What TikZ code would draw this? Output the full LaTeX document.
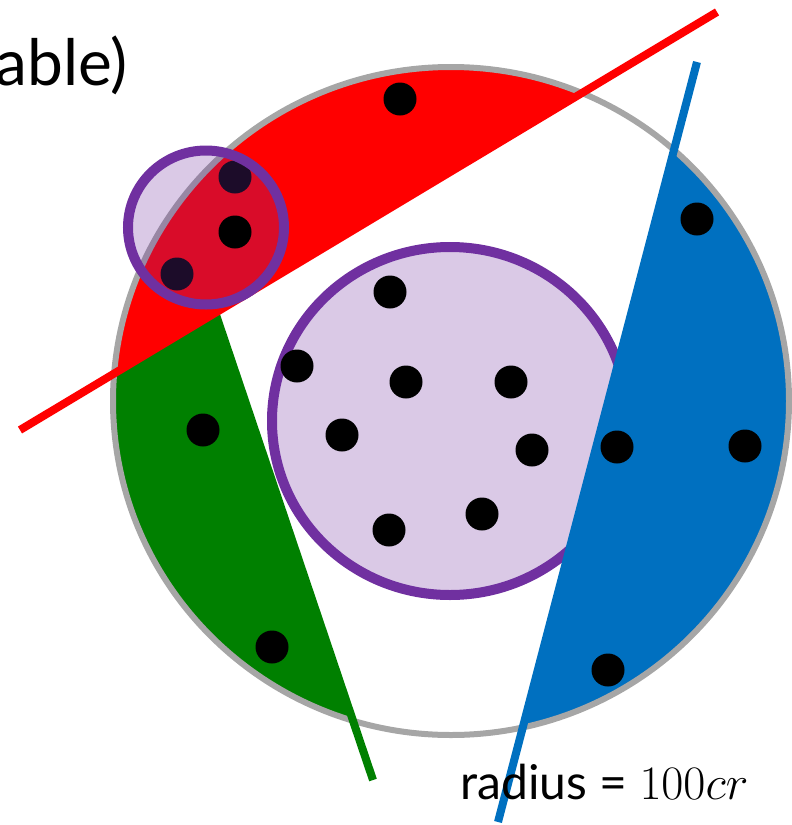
\RequirePackage{fix-cm}
\documentclass[tikz,border=0pt]{standalone}
\usepackage{fontspec}
\setmainfont{Lato}
\usetikzlibrary{calc}
\definecolor{cinza}{HTML}{A6A6A6}
\definecolor{vermelho}{HTML}{FF0000}
\definecolor{verde}{HTML}{008000}
\definecolor{azul}{HTML}{0070C0}
\definecolor{roxo}{HTML}{7030A0}
\tikzset{
  borda/.style={draw=cinza, line width=6pt},
  conjunto/.style={draw=roxo, line width=10pt, fill=roxo, fill opacity=0.26},
  corte/.style={line width=8pt},
  ponto/.style={fill=black},
}
\begin{document}
\begin{tikzpicture}[x=1pt,y=-1pt]
	\useasboundingbox (0,0) rectangle (792,825);
	
	% Pontos que definem as retas de corte
	\coordinate (r1) at (20,430);
	\coordinate (r2) at (717,12);
	\coordinate (g1) at (215.2,312.5);
	\coordinate (g2) at (373,780);
	\coordinate (b1) at (697,62);
	\coordinate (b2) at (498,822);
	\coordinate (O) at (451,401);
	
	% Conjunto grande ao centro
	\draw[conjunto] (450,421) ellipse (178 and 174);
	
	% Regiões cortadas pelas retas, dentro do círculo
	\begin{scope}
		\clip (O) ellipse (338 and 334);
		\fill[vermelho] ($(r1)!-0.6!(r2)$) -- ($(r1)!1.6!(r2)$) -- (1200,-500) -- (-400,-500) -- cycle;
		\fill[verde] (g1) -- ($(g1)!2!(g2)$) -- (-400,1300) -- ($(r1)!-0.6!(r2)$) -- cycle;
		\fill[azul] ($(b1)!-0.6!(b2)$) -- ($(b1)!1.6!(b2)$) -- (1300,1300) -- (1300,-500) -- cycle;
	\end{scope}
	
	% Contorno do círculo
	\draw[borda] (O) ellipse (338 and 334);
	
	% Retas de corte
	\draw[corte, verde] (g1) -- (g2);
	\draw[corte, vermelho] (r1) -- (r2);
	\draw[corte, azul] (b1) -- (b2);
	
	% Pontos
	\foreach \px/\py in {235/177, 177/274, 400/99, 390/292, 297/366, 406/382,
		511/382, 342/435, 532/450, 617/447, 389/530, 482/514, 203/430,
		272/647, 697/219, 745/446, 608/670}
		\fill[ponto] (\px,\py) circle (16.5);
	
	% Conjunto pequeno
	\draw[conjunto] (206,227.5) ellipse (78 and 77);
	\fill[ponto] (235,232) circle (16.5);
	
	% Textos
	\node[anchor=base east, inner sep=0, font=\fontsize{64}{70}\selectfont] (titulo) at (128,85) {able)};
	\node[anchor=base west, inner sep=0, font=\fontsize{48}{54}\selectfont] (raio) at (460,799) {radius = $100cr$};
\end{tikzpicture}
\end{document}
